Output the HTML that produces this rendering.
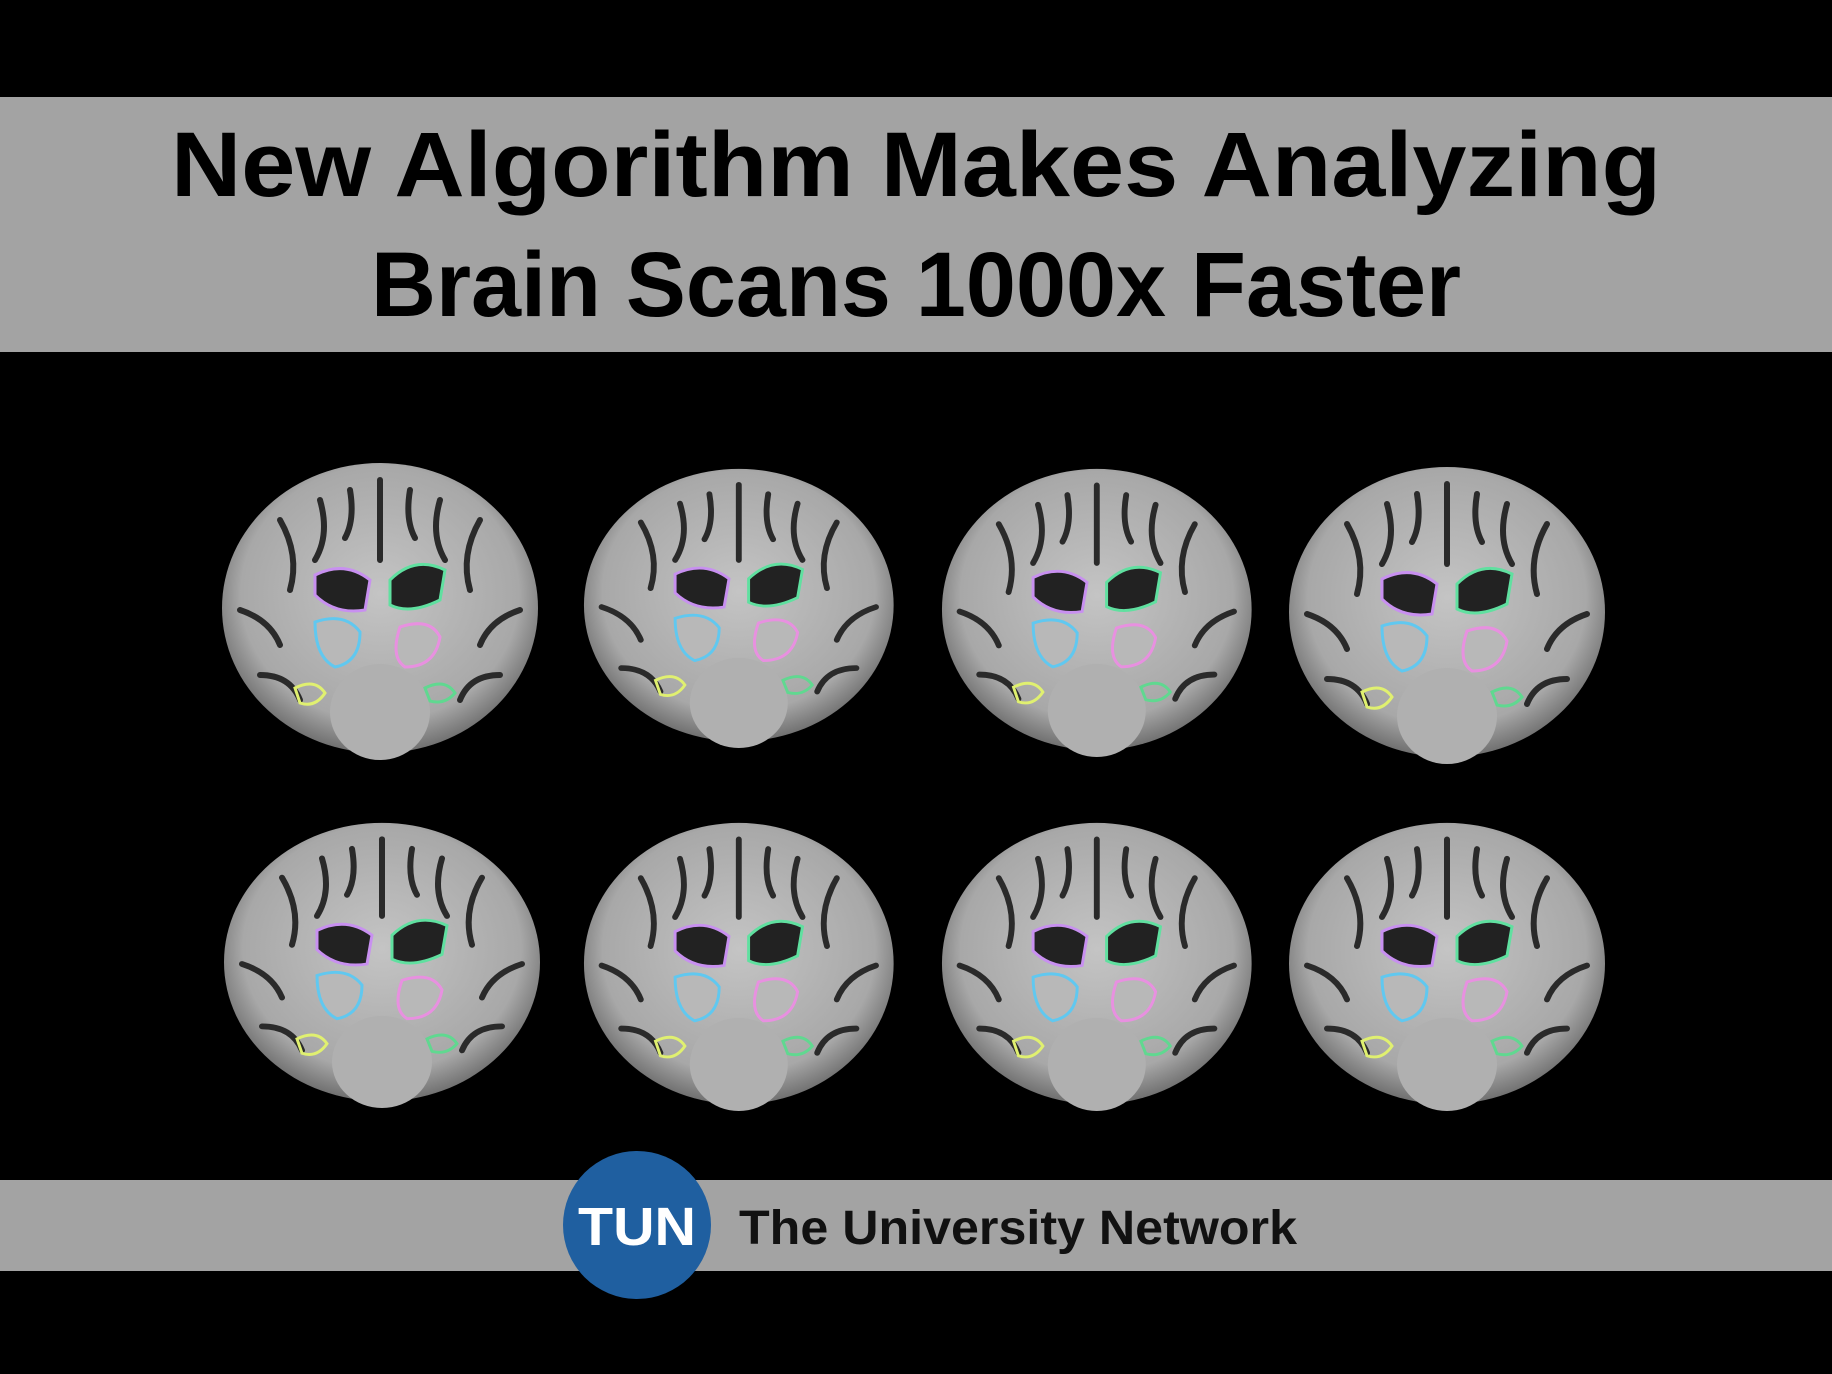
<!DOCTYPE html>
<html><head><meta charset="utf-8"><style>
html,body{margin:0;padding:0;background:#000;}
svg{display:block;}
</style></head><body>
<svg width="1832" height="1374" viewBox="0 0 1832 1374" xmlns="http://www.w3.org/2000/svg">
<defs>
<radialGradient id="bg" cx="50%" cy="45%" r="55%">
<stop offset="0" stop-color="#c4c4c4"/><stop offset="0.8" stop-color="#a8a8a8"/><stop offset="1" stop-color="#707070"/>
</radialGradient>
<g id="brain">
<ellipse cx="160" cy="148" rx="158" ry="145" fill="url(#bg)"/>
<ellipse cx="160" cy="252" rx="50" ry="48" fill="#b0b0b0"/>
<g stroke="#2a2a2a" stroke-width="6" fill="none" stroke-linecap="round">
<path d="M160 20 L160 100"/>
<path d="M60 60 Q80 95 70 130"/><path d="M100 40 Q110 75 95 100"/>
<path d="M260 60 Q240 95 250 130"/><path d="M220 40 Q210 75 225 100"/>
<path d="M20 150 Q50 160 60 185"/><path d="M300 150 Q270 160 260 185"/>
<path d="M40 215 Q70 215 80 240"/><path d="M280 215 Q250 215 240 240"/>
<path d="M130 30 Q135 60 125 78"/><path d="M190 30 Q185 60 195 78"/>
</g>
<path d="M95 115 Q125 100 150 120 L145 150 Q115 155 95 135Z" fill="#222" stroke="#c890f0" stroke-width="3"/>
<path d="M170 120 Q195 95 225 110 L220 140 Q190 155 170 145Z" fill="#222" stroke="#60e0a0" stroke-width="3"/>
<path d="M95 162 Q125 152 140 172 Q140 202 115 207 Q95 197 95 162Z" fill="#b8b8b8" stroke="#60c8f0" stroke-width="3"/>
<path d="M180 167 Q210 157 220 177 Q215 207 185 207 Q170 197 180 167Z" fill="#b8b8b8" stroke="#e890e0" stroke-width="3"/>
<path d="M75 228 Q95 218 105 233 Q95 248 80 243Z" fill="none" stroke="#e0f070" stroke-width="3"/>
<path d="M205 228 Q225 218 235 233 Q225 245 210 241Z" fill="none" stroke="#60d890" stroke-width="3"/>
</g>
</defs>
<rect x="0" y="0" width="1832" height="1374" fill="#000"/>
<rect x="0" y="97" width="1832" height="255" fill="#a3a3a3"/>
<text x="916" y="196" text-anchor="middle" font-family="Liberation Sans, sans-serif" font-weight="bold" font-size="92" fill="#000" textLength="1490" lengthAdjust="spacingAndGlyphs">New Algorithm Makes Analyzing</text>
<text x="916" y="316" text-anchor="middle" font-family="Liberation Sans, sans-serif" font-weight="bold" font-size="92" fill="#000" textLength="1090" lengthAdjust="spacingAndGlyphs">Brain Scans 1000x Faster</text>
<use href="#brain" transform="translate(220,460) scale(1.0,1.0)"/>
<use href="#brain" transform="translate(582,466) scale(0.98,0.94)"/>
<use href="#brain" transform="translate(940,466) scale(0.98,0.97)"/>
<use href="#brain" transform="translate(1287,464) scale(1.0,1.0)"/>
<use href="#brain" transform="translate(222,820) scale(1.0,0.96)"/>
<use href="#brain" transform="translate(582,820) scale(0.98,0.97)"/>
<use href="#brain" transform="translate(940,820) scale(0.98,0.97)"/>
<use href="#brain" transform="translate(1287,820) scale(1.0,0.97)"/>
<rect x="0" y="1180" width="1832" height="91" fill="#a3a3a3"/>
<circle cx="637" cy="1225" r="74" fill="#1f5fa0"/>
<text x="637" y="1245" text-anchor="middle" font-family="Liberation Sans, sans-serif" font-weight="bold" font-size="54" fill="#fff" textLength="118" lengthAdjust="spacingAndGlyphs">TUN</text>
<text x="739" y="1244" font-family="Liberation Sans, sans-serif" font-weight="bold" font-size="48" fill="#111" textLength="558" lengthAdjust="spacingAndGlyphs">The University Network</text>
</svg>
</body></html>
